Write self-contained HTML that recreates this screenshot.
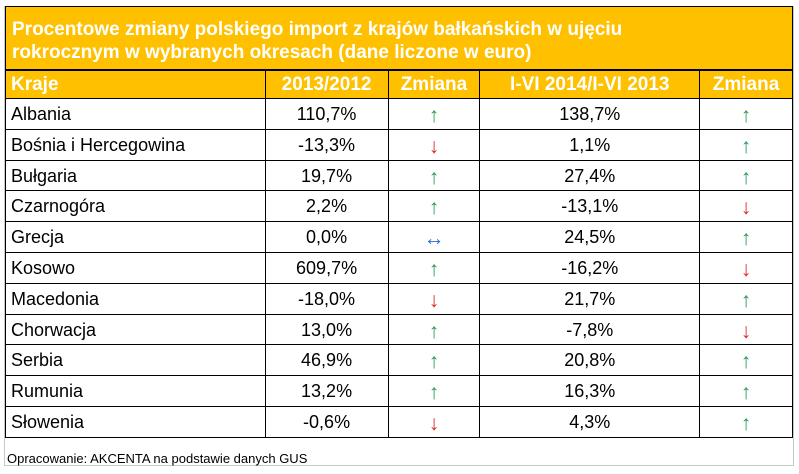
<!DOCTYPE html>
<html><head><meta charset="utf-8"><style>
body{margin:0;width:799px;height:474px;background:#fff;font-family:"Liberation Sans",Arial,sans-serif;position:relative;overflow:hidden}
.box{position:absolute;left:4px;top:6px;width:788px;height:459px;border:1px solid #c8c8c8;border-top:none}
.title{position:absolute;left:5px;top:6px;width:788px;height:64px;background:#ffc000;border:1px solid #000;box-sizing:border-box;color:#fff;font-weight:bold;font-size:19px;line-height:23px;padding:11px 0 0 6px}
table{position:absolute;left:5px;top:70px;border-collapse:collapse;width:788px}
td{border:1px solid #000;height:25.8px;padding:4px 0 0 0;font-size:18px;line-height:22px;text-align:center;color:#000;vertical-align:top}
td:first-child{text-align:left;padding-left:5px}
tr.h td{background:#ffc000;color:#fff;font-weight:bold;font-size:19px;height:24px;padding-top:3px}
.u{color:#2e9a5a}.d{color:#e02828}.b{color:#2a6fd0}
td.u,td.d,td.b{font-size:21px;padding-top:6px;height:23.8px}
.foot{position:absolute;left:7px;top:451px;font-size:13px;color:#000}
</style></head><body>
<div class="box"></div>
<div class="title">Procentowe zmiany polskiego import z krajów bałkańskich w ujęciu<br>rokrocznym w wybranych okresach (dane liczone w euro)</div>
<table>
<colgroup><col style="width:260px"><col style="width:123px"><col style="width:92px"><col style="width:220px"><col style="width:93px"></colgroup>
<tr class="h"><td>Kraje</td><td>2013/2012</td><td>Zmiana</td><td>I-VI 2014/I-VI 2013</td><td>Zmiana</td></tr>
<tr><td>Albania</td><td>110,7%</td><td class="u">↑</td><td>138,7%</td><td class="u">↑</td></tr>
<tr><td>Bośnia i Hercegowina</td><td>-13,3%</td><td class="d">↓</td><td>1,1%</td><td class="u">↑</td></tr>
<tr><td>Bułgaria</td><td>19,7%</td><td class="u">↑</td><td>27,4%</td><td class="u">↑</td></tr>
<tr><td>Czarnogóra</td><td>2,2%</td><td class="u">↑</td><td>-13,1%</td><td class="d">↓</td></tr>
<tr><td>Grecja</td><td>0,0%</td><td class="b">↔</td><td>24,5%</td><td class="u">↑</td></tr>
<tr><td>Kosowo</td><td>609,7%</td><td class="u">↑</td><td>-16,2%</td><td class="d">↓</td></tr>
<tr><td>Macedonia</td><td>-18,0%</td><td class="d">↓</td><td>21,7%</td><td class="u">↑</td></tr>
<tr><td>Chorwacja</td><td>13,0%</td><td class="u">↑</td><td>-7,8%</td><td class="d">↓</td></tr>
<tr><td>Serbia</td><td>46,9%</td><td class="u">↑</td><td>20,8%</td><td class="u">↑</td></tr>
<tr><td>Rumunia</td><td>13,2%</td><td class="u">↑</td><td>16,3%</td><td class="u">↑</td></tr>
<tr><td>Słowenia</td><td>-0,6%</td><td class="d">↓</td><td>4,3%</td><td class="u">↑</td></tr>
</table>
<div class="foot">Opracowanie: AKCENTA na podstawie danych GUS</div>
</body></html>
